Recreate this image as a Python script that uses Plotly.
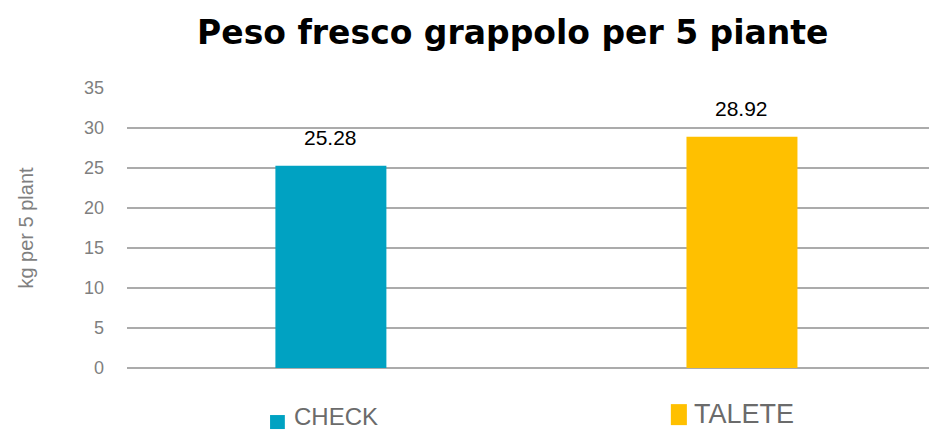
import plotly.graph_objects as go

categories = ["CHECK", "TALETE"]
values = [25.28, 28.92]
colors = ["#00A2C2", "#FFC000"]
y_ticks = [0, 5, 10, 15, 20, 25, 30, 35]

x_pos = list(range(len(categories)))

fig = go.Figure()
fig.add_trace(go.Bar(
    x=x_pos, y=values, marker=dict(color=colors, line=dict(width=0)),
    width=0.27, showlegend=False, hoverinfo="skip",
))

# data labels
for xi, v in zip(x_pos, values):
    fig.add_annotation(x=xi, y=v, text=f"{v:.2f}", showarrow=False,
                       yanchor="middle", yshift=28,
                       font=dict(family="Liberation Sans, Arial", size=21, color="#000000"))

# legend swatches (decoration, offset from each category)
sw_x = [(-0.148, -0.112), (-0.173, -0.134)]
sw_y = [(-0.218, -0.168), (-0.204, -0.129)]
for xi, col, (dx0, dx1), (py0, py1) in zip(x_pos, colors, sw_x, sw_y):
    fig.add_shape(type="rect", xref="x", yref="paper",
                  x0=xi + dx0, x1=xi + dx1, y0=py0, y1=py1,
                  fillcolor=col, line=dict(width=0), layer="above")

# legend texts
leg_sizes = [24, 27]
leg_y = [-0.172, -0.165]
leg_dx = [-39, -50]
for xi, cat, fs, ly, dx in zip(x_pos, categories, leg_sizes, leg_y, leg_dx):
    fig.add_annotation(x=xi, y=ly, xref="x", yref="paper", xshift=dx,
                       text=cat, showarrow=False, xanchor="left", yanchor="middle",
                       font=dict(family="Liberation Sans, Arial", size=fs, color="#6b6b6b"))

fig.update_layout(
    width=929, height=430,
    margin=dict(l=127, r=0, t=88, b=62),
    paper_bgcolor="white", plot_bgcolor="white",
    title=dict(text="<b>Peso fresco grappolo per 5 piante</b>",
               x=0.552, xanchor="center", y=0.925, yanchor="middle",
               font=dict(family="DejaVu Sans", size=33, color="#000000", weight="bold")),
    xaxis=dict(range=[-0.496, 1.455], showticklabels=False, showgrid=False,
               zeroline=False, showline=False, fixedrange=True),
    yaxis=dict(range=[0, 35], tickvals=y_ticks, ticktext=[str(t) for t in y_ticks],
               showgrid=True, gridcolor="#ABABAB", gridwidth=2,
               zeroline=True, zerolinecolor="#ABABAB", zerolinewidth=2,
               showline=False, ticks="", ticklabelstandoff=22, automargin=False,
               tickfont=dict(family="Liberation Sans, Arial", size=18, color="#7f7f7f"),
               title=dict(text="kg per 5 plant", standoff=44,
                          font=dict(family="Liberation Sans, Arial", size=20, color="#7f7f7f"))),
)

fig.write_html("out.html", config={"displayModeBar": False},
               post_script="document.body.style.margin='0';")
